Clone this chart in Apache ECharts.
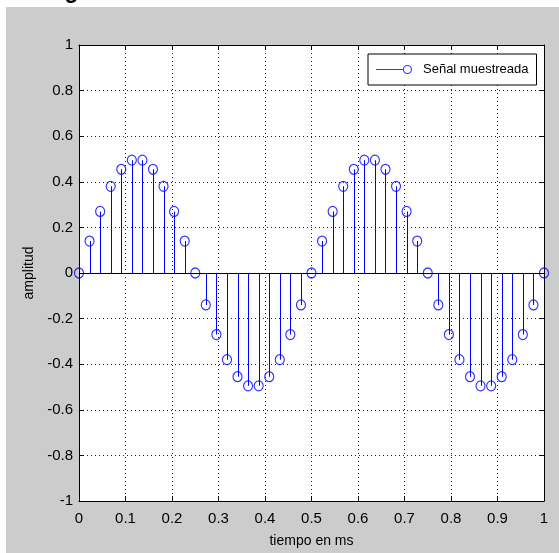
<!DOCTYPE html>
<html>
<head>
<meta charset="utf-8">
<script src="https://cdn.jsdelivr.net/npm/echarts@6/dist/echarts.min.js"></script>
<style>
html,body{margin:0;padding:0;background:#fff;}
#chart{width:559px;height:553px;}
</style>
</head>
<body>
<div id="chart"></div>
<script>
var titleText = 'Figura 5 Gráfica de señal muestreada';
var seriesName = 'Señal muestreada';
var xName = 'tiempo en ms';
var yName = 'amplitud';
var times = [0, 0.0227, 0.0455, 0.0682, 0.0909, 0.1136, 0.1364, 0.1591, 0.1818, 0.2045, 0.2273, 0.25,
  0.2727, 0.2955, 0.3182, 0.3409, 0.3636, 0.3864, 0.4091, 0.4318, 0.4545, 0.4773, 0.5,
  0.5227, 0.5455, 0.5682, 0.5909, 0.6136, 0.6364, 0.6591, 0.6818, 0.7045, 0.7273, 0.75,
  0.7727, 0.7955, 0.8182, 0.8409, 0.8636, 0.8864, 0.9091, 0.9318, 0.9545, 0.9773, 1];
var amplitudes = [0, 0.14, 0.27, 0.38, 0.455, 0.495, 0.495, 0.455, 0.38, 0.27, 0.14, 0,
  -0.14, -0.27, -0.38, -0.455, -0.495, -0.495, -0.455, -0.38, -0.27, -0.14, 0,
  0.14, 0.27, 0.38, 0.455, 0.495, 0.495, 0.455, 0.38, 0.27, 0.14, 0,
  -0.14, -0.27, -0.38, -0.455, -0.495, -0.495, -0.455, -0.38, -0.27, -0.14, 0];
var xTicks = [0, 0.1, 0.2, 0.3, 0.4, 0.5, 0.6, 0.7, 0.8, 0.9, 1];
var yTicks = [-1, -0.8, -0.6, -0.4, -0.2, 0, 0.2, 0.4, 0.6, 0.8, 1];

var points = times.map(function (t, i) { return [t, amplitudes[i]]; });

var FONT = "'Liberation Sans', Arial, sans-serif";
var BLUE = '#0000ff';

var chart = echarts.init(document.getElementById('chart'), null, {renderer: 'canvas'});

function labelAxis(pos, vals, isX) {
  return {
    type: 'value',
    position: pos,
    min: vals[0], max: vals[vals.length - 1],
    interval: vals[1] - vals[0],
    axisLine: {show: true, onZero: false, lineStyle: {color: '#000', width: 1}},
    axisTick: {show: true, inside: true, length: 5, lineStyle: {color: '#000'}},
    axisLabel: {show: true, color: '#000', fontFamily: FONT, fontSize: 15, margin: isX ? 10 : 6,
      formatter: function (v) { return String(+v.toFixed(2)); }},
    splitLine: {show: true, lineStyle: {color: '#222', type: [1, 3], width: 1}}
  };
}
function plainAxis(pos, vals) {
  return {
    type: 'value',
    position: pos,
    min: vals[0], max: vals[vals.length - 1],
    interval: vals[1] - vals[0],
    axisLine: {show: true, onZero: false, lineStyle: {color: '#000', width: 1}},
    axisTick: {show: true, inside: true, length: 5, lineStyle: {color: '#000'}},
    axisLabel: {show: false},
    splitLine: {show: false}
  };
}

var xMain = labelAxis('bottom', xTicks, true);
xMain.name = xName;
xMain.nameLocation = 'middle';
xMain.nameGap = 33;
xMain.nameTextStyle = {color: '#000', fontFamily: FONT, fontSize: 14};
var yMain = labelAxis('left', yTicks, false);
yMain.name = yName;
yMain.nameLocation = 'middle';
yMain.nameGap = 31;
yMain.nameTextStyle = {color: '#000', fontFamily: FONT, fontSize: 14};

var legendIcon = 'path://M0,4.5 L26.5,4.5 L26.5,5.5 L0,5.5 Z ' +
  'M35.5,5 A4.5,4.5 0 1,0 26.5,5 A4.5,4.5 0 1,0 35.5,5 Z ' +
  'M34.4,5 A3.4,3.4 0 1,1 27.6,5 A3.4,3.4 0 1,1 34.4,5 Z';

var option = {
  backgroundColor: '#cccccc',
  animation: false,
  graphic: [
    {type: 'rect', z: -100, shape: {x: 0, y: 0, width: 559, height: 7}, style: {fill: '#ffffff'}, silent: true},
    {type: 'rect', z: -100, shape: {x: 0, y: 0, width: 6, height: 553}, style: {fill: '#ffffff'}, silent: true},
    {type: 'text', z: 100, x: 44, y: -20,
      style: {text: titleText, fill: '#000', font: "bold 23px 'Liberation Sans', Arial, sans-serif"}}
  ],
  grid: {left: 79, right: 15, top: 45, bottom: 48, show: true, backgroundColor: '#ffffff', borderWidth: 0},
  legend: {
    show: true,
    left: 368, top: 54,
    orient: 'horizontal',
    backgroundColor: '#ffffff',
    borderColor: '#000', borderWidth: 1,
    padding: [9, 8, 9, 8],
    itemWidth: 36, itemHeight: 10, itemGap: 10,
    textStyle: {color: '#000', fontFamily: FONT, fontSize: 13, padding: [0, 0, 0, 6]},
    data: [{name: seriesName, icon: legendIcon, itemStyle: {color: BLUE, borderWidth: 0}}]
  },
  xAxis: [xMain, plainAxis('top', xTicks)],
  yAxis: [yMain, plainAxis('right', yTicks)],
  series: [
    {
      type: 'custom',
      name: 'stems',
      xAxisIndex: 0, yAxisIndex: 0,
      data: points,
      encode: {x: 0, y: 1},
      renderItem: function (params, api) {
        var p0 = api.coord([api.value(0), 0]);
        var p1 = api.coord([api.value(0), api.value(1)]);
        var top = Math.min(p0[1], p1[1]);
        var h = Math.abs(p1[1] - p0[1]);
        return {
          type: 'rect',
          shape: {x: Math.round(p0[0]), y: top, width: 1, height: h},
          style: {fill: BLUE, stroke: null}
        };
      },
      markLine: {
        silent: true, symbol: 'none', animation: false,
        label: {show: false},
        lineStyle: {color: '#000', type: 'solid', width: 1},
        data: [{yAxis: 0}]
      },
      z: 3
    },
    {
      type: 'scatter',
      name: seriesName,
      xAxisIndex: 0, yAxisIndex: 0,
      data: points,
      symbol: 'circle',
      symbolSize: [9, 10],
      itemStyle: {color: 'rgba(0,0,0,0)', borderColor: BLUE, borderWidth: 1.2},
      z: 4
    }
  ]
};
chart.setOption(option);
</script>
</body>
</html>
